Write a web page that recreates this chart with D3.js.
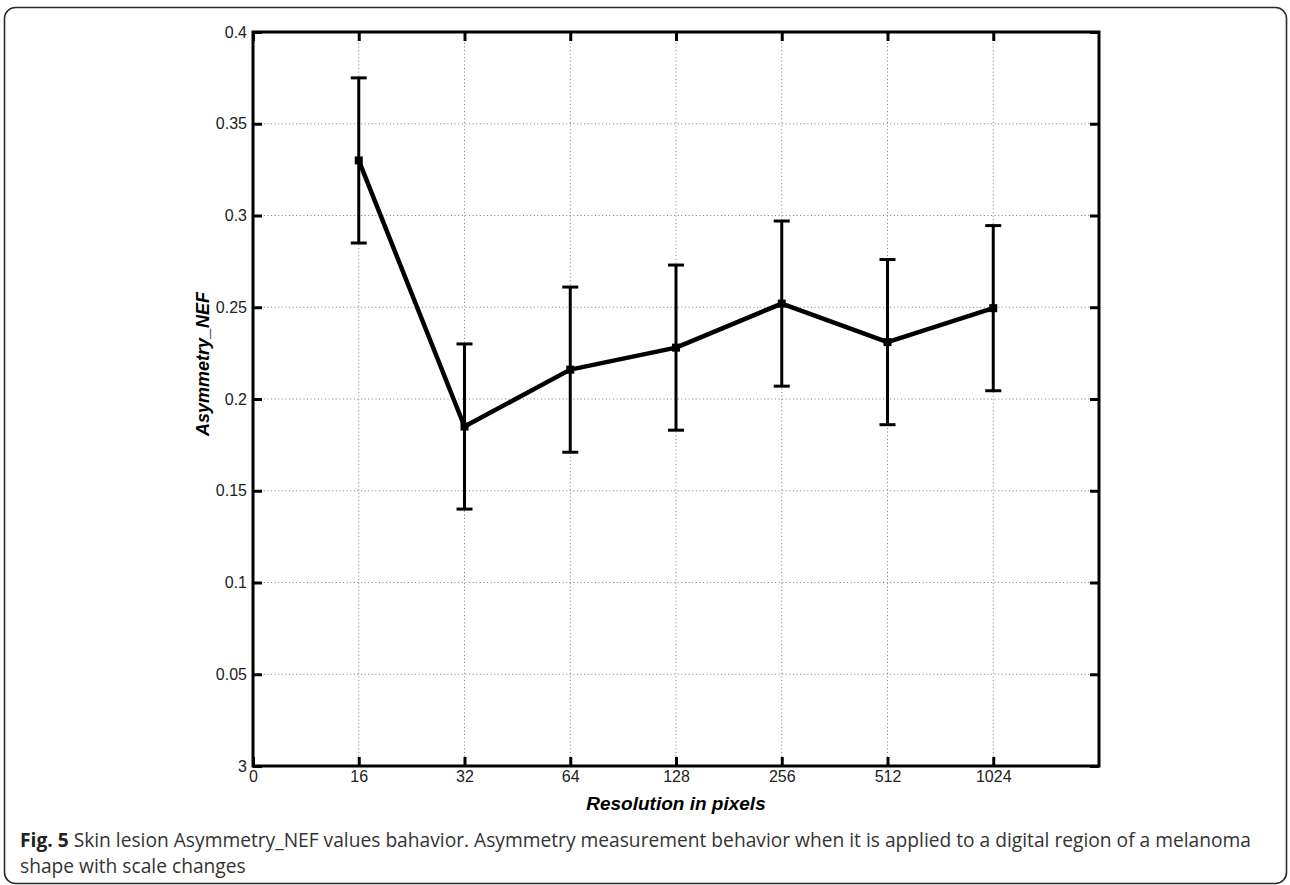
<!DOCTYPE html>
<html>
<head>
<meta charset="utf-8">
<script src="https://cdn.jsdelivr.net/npm/d3@7"></script>
<style>
  body { margin: 0; background: #fff; }
  svg { display: block; }
</style>
</head>
<body>
<div id="chart"></div>
<script>
// chart data
const resolutions = ["16", "32", "64", "128", "256", "512", "1024"];
const asymValues = [0.330, 0.185, 0.216, 0.228, 0.252, 0.231, 0.2495];
const asymErrors = [0.045, 0.045, 0.045, 0.045, 0.045, 0.045, 0.045];
const xTickLabels = ["0", "16", "32", "64", "128", "256", "512", "1024"];
const yTickValues = [0, 0.05, 0.1, 0.15, 0.2, 0.25, 0.3, 0.35, 0.4];
const yTickLabels = ["3", "0.05", "0.1", "0.15", "0.2", "0.25", "0.3", "0.35", "0.4"];

const W = 1290, H = 885;
const plot = { left: 253, right: 1099, top: 32, bottom: 766 };

const svg = d3.select("#chart").append("svg")
    .attr("width", W)
    .attr("height", H);

// outer rounded frame
svg.append("rect")
    .attr("x", 4.5).attr("y", 7.5)
    .attr("width", 1282).attr("height", 876)
    .attr("rx", 11).attr("ry", 11)
    .attr("fill", "none")
    .attr("stroke", "#2b2b2b")
    .attr("stroke-width", 1.6);

const x = d3.scaleLinear().domain([0, 8]).range([plot.left, plot.right]);
const y = d3.scaleLinear().domain([0, 0.4]).range([plot.bottom, plot.top]);

const g = svg.append("g");

// grid (dotted)
const gridStyle = sel => sel
    .attr("stroke", "#7a7a7a")
    .attr("stroke-width", 1)
    .attr("stroke-dasharray", "1,2.6");

g.selectAll("line.vgrid")
    .data(d3.range(1, xTickLabels.length))
    .join("line")
    .attr("class", "vgrid")
    .attr("x1", d => x(d)).attr("x2", d => x(d))
    .attr("y1", plot.top).attr("y2", plot.bottom)
    .call(gridStyle);

g.selectAll("line.hgrid")
    .data(yTickValues.slice(1, -1))
    .join("line")
    .attr("class", "hgrid")
    .attr("x1", plot.left).attr("x2", plot.right)
    .attr("y1", d => y(d)).attr("y2", d => y(d))
    .call(gridStyle);

// axes with inward ticks on all four sides
const tickLen = 9;
const axisLeft = d3.axisLeft(y).tickValues(yTickValues)
    .tickSizeInner(-tickLen).tickSizeOuter(0)
    .tickFormat((d, i) => yTickLabels[i]);
const axisRight = d3.axisRight(y).tickValues(yTickValues)
    .tickSizeInner(-tickLen).tickSizeOuter(0).tickFormat("");
const axisBottom = d3.axisBottom(x).tickValues(d3.range(0, xTickLabels.length))
    .tickSizeInner(-tickLen).tickSizeOuter(0)
    .tickFormat((d, i) => xTickLabels[i]);
const axisTop = d3.axisTop(x).tickValues(d3.range(0, xTickLabels.length))
    .tickSizeInner(-tickLen).tickSizeOuter(0).tickFormat("");

const styleAxis = sel => {
    sel.select(".domain").remove();
    sel.selectAll(".tick line").attr("stroke", "#000").attr("stroke-width", 3);
    sel.selectAll(".tick text")
        .attr("fill", "#222")
        .style("font-family", "'Liberation Sans', Arial, sans-serif")
        .style("font-size", "16px");
};

g.append("g").attr("transform", `translate(${plot.left},0)`).call(axisLeft).call(styleAxis)
    .selectAll(".tick text").attr("x", -6);
g.append("g").attr("transform", `translate(${plot.right},0)`).call(axisRight).call(styleAxis);
g.append("g").attr("transform", `translate(0,${plot.bottom})`).call(axisBottom).call(styleAxis)
    .selectAll(".tick text").attr("y", 5);
g.append("g").attr("transform", `translate(0,${plot.top})`).call(axisTop).call(styleAxis);

// plot box
g.append("rect")
    .attr("x", plot.left).attr("y", plot.top)
    .attr("width", plot.right - plot.left).attr("height", plot.bottom - plot.top)
    .attr("fill", "none")
    .attr("stroke", "#000")
    .attr("stroke-width", 3);

// data
const pts = resolutions.map((r, i) => ({ r, xi: i + 1, v: asymValues[i], e: asymErrors[i] }));

// error bars
const capHalf = 8;
const eb = g.selectAll("g.err").data(pts).join("g").attr("class", "err")
    .attr("stroke", "#000").attr("stroke-width", 3);
eb.append("line")
    .attr("x1", d => x(d.xi)).attr("x2", d => x(d.xi))
    .attr("y1", d => y(d.v + d.e)).attr("y2", d => y(d.v - d.e));
eb.append("line")
    .attr("x1", d => x(d.xi) - capHalf).attr("x2", d => x(d.xi) + capHalf)
    .attr("y1", d => y(d.v + d.e)).attr("y2", d => y(d.v + d.e));
eb.append("line")
    .attr("x1", d => x(d.xi) - capHalf).attr("x2", d => x(d.xi) + capHalf)
    .attr("y1", d => y(d.v - d.e)).attr("y2", d => y(d.v - d.e));

// line
g.append("path")
    .datum(pts)
    .attr("fill", "none")
    .attr("stroke", "#000")
    .attr("stroke-width", 4.5)
    .attr("stroke-linejoin", "round")
    .attr("d", d3.line().x(d => x(d.xi)).y(d => y(d.v)));

// square markers
const ms = 8;
g.selectAll("rect.mk").data(pts).join("rect").attr("class", "mk")
    .attr("x", d => x(d.xi) - ms / 2).attr("y", d => y(d.v) - ms / 2)
    .attr("width", ms).attr("height", ms)
    .attr("fill", "#000");

// axis titles
const titleFont = "'Liberation Sans', Arial, sans-serif";
svg.append("text")
    .attr("x", (plot.left + plot.right) / 2)
    .attr("y", 810)
    .attr("text-anchor", "middle")
    .style("font-family", titleFont)
    .style("font-size", "19px")
    .style("font-weight", "bold")
    .style("font-style", "italic")
    .text("Resolution in pixels");

svg.append("text")
    .attr("transform", `translate(209,${(plot.top + plot.bottom) / 2 - 35}) rotate(-90)`)
    .attr("text-anchor", "middle")
    .style("font-family", titleFont)
    .style("font-size", "18px")
    .style("font-weight", "bold")
    .style("font-style", "italic")
    .text("Asymmetry_NEF");

// caption
const capFont = "'Open Sans', 'Noto Sans', sans-serif";
const cap1 = svg.append("text")
    .attr("x", 20).attr("y", 847)
    .style("font-family", capFont)
    .style("font-size", "19.2px")
    .attr("fill", "#333");
cap1.append("tspan").style("font-weight", "bold").attr("fill", "#222").text("Fig. 5");
cap1.append("tspan").text(" Skin lesion Asymmetry_NEF values bahavior. Asymmetry measurement behavior when it is applied to a digital region of a melanoma");

svg.append("text")
    .attr("x", 20).attr("y", 873)
    .style("font-family", capFont)
    .style("font-size", "19.2px")
    .attr("fill", "#333")
    .text("shape with scale changes");
</script>
</body>
</html>
